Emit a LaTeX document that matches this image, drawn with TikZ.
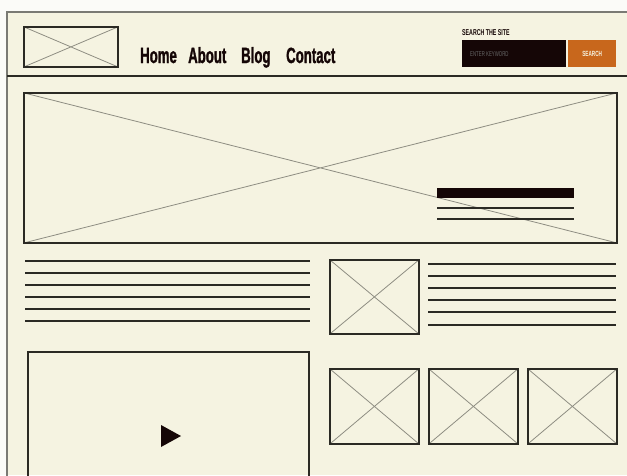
\documentclass[tikz,border=0pt]{standalone}
\usepackage{fontspec}
\newfontfamily\navfont[FakeStretch=0.62]{Liberation Sans}
\newfontfamily\navheavy[FakeStretch=0.6, FakeBold=1.2]{Liberation Sans}
\definecolor{paper}{HTML}{F5F3E1}
\definecolor{outside}{HTML}{FBFBF8}
\definecolor{framegray}{HTML}{7A7A74}
\definecolor{ink}{HTML}{2B2A24}
\definecolor{crossgray}{HTML}{8E8D82}
\definecolor{searchdark}{HTML}{150606}
\definecolor{searchorange}{HTML}{C8671C}

\begin{document}
\begin{tikzpicture}[x=1pt, y=-1pt,
    imgph/.style={draw=ink, line width=1.8pt, rectangle, anchor=north west, inner sep=0pt,
        path picture={\draw[crossgray, line width=0.8pt]
            (path picture bounding box.north west) -- (path picture bounding box.south east)
            (path picture bounding box.south west) -- (path picture bounding box.north east);}},
    textline/.style={ink, line width=1.8pt},
    navtext/.style={font=\navheavy\bfseries\fontsize{22}{24}\selectfont, text=searchdark, inner sep=0pt, anchor=base west}]
                % Page
                \useasboundingbox[fill=outside] (0,0) rectangle (627,475);
                \fill[paper] (7,12) rectangle (627,475);
                \draw[framegray, line width=2pt] (7,476) -- (7,12) -- (628,12);
                % Header
                \node[imgph, minimum width=94pt, minimum height=40pt] (logo) at (23,26) {};
                \node[navtext] (home) at (140,63) {Home};
                \node[navtext] (about) at (188,63) {About};
                \node[navtext] (blog) at (241,63) {Blog};
                \node[navtext] (contact) at (286,63) {Contact};
                % Search
                \node[anchor=base west, inner sep=0pt, text=searchdark, font=\navfont\bfseries\fontsize{8.5}{9}\selectfont] (searchlabel) at (462,35) {SEARCH THE SITE};
                \node[anchor=north west, fill=searchdark, minimum width=104pt, minimum height=27pt, inner sep=0pt] (keyword) at (462,40) {};
                \node[anchor=west, inner sep=0pt, text=black!60, font=\navfont\fontsize{7}{8}\selectfont] (hint) at ([xshift=8pt]keyword.west) {ENTER KEYWORD};
                \node[anchor=north west, fill=searchorange, minimum width=48pt, minimum height=27pt, inner sep=0pt, text=paper, font=\navfont\bfseries\fontsize{7.5}{8}\selectfont] (go) at (568,40) {SEARCH};
                \draw[ink, line width=2.4pt] (7,76) -- (627,76);
                % Hero
                \node[imgph, minimum width=593pt, minimum height=150pt] (hero) at (23,92) {};
                \fill[searchdark] (437,188) rectangle (574,198);
                \draw[ink, line width=1.4pt] (437,208) -- (574,208);
                \draw[ink, line width=1.4pt] (437,219) -- (574,219);
                % Text block
                \foreach \ly in {261,273,285,297,309,321}
                    \draw[textline] (25,\ly) -- (310,\ly);
                \node[imgph, minimum width=89pt, minimum height=74pt] (thumb) at (329,259) {};
                \foreach \ly in {264,276,288,300,312,325}
                    \draw[textline] (428,\ly) -- (616,\ly);
                % Video
                \node[draw=ink, line width=1.6pt, anchor=north west, inner sep=0pt, minimum width=281pt, minimum height=140pt] (video) at (27,351) {};
                \fill[searchdark] (161,425) -- (181,436) -- (161,447) -- cycle;
                % Gallery
                \node[imgph, minimum width=89pt, minimum height=75pt] (pic1) at (329,368) {};
                \node[imgph, minimum width=89pt, minimum height=75pt] (pic2) at (428,368) {};
                \node[imgph, minimum width=89pt, minimum height=75pt] (pic3) at (527,368) {};
\end{tikzpicture}
\end{document}
